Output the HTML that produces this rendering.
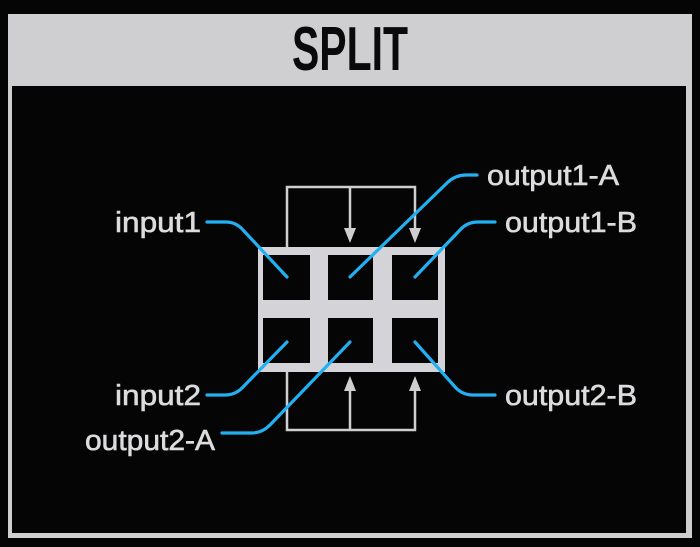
<!DOCTYPE html>
<html><head><style>
html,body{margin:0;padding:0;background:#000;}
svg{display:block;}
</style></head><body>
<svg width="700" height="547" viewBox="0 0 700 547" xmlns="http://www.w3.org/2000/svg">
<rect x="0" y="0" width="700" height="547" fill="#050505"/>
<rect x="8" y="14" width="684" height="524" fill="#cfcfd2"/>
<rect x="12" y="86" width="674" height="447" fill="#050505"/>
<text x="350" y="70" text-anchor="middle" font-family="Liberation Sans Narrow, Liberation Sans, sans-serif" font-weight="bold" font-size="62" fill="#0a0a0a" textLength="116" lengthAdjust="spacingAndGlyphs">SPLIT</text>
<!-- grid -->
<rect x="258" y="247" width="187" height="125" fill="#d4d4d8"/>
<g fill="#050505">
<rect x="263" y="255" width="47" height="45"/>
<rect x="328" y="255" width="45" height="45"/>
<rect x="392" y="255" width="46" height="45"/>
<rect x="263" y="318" width="47" height="45"/>
<rect x="328" y="318" width="45" height="45"/>
<rect x="392" y="318" width="46" height="45"/>
</g>
<!-- brackets -->
<g stroke="#cfcfd2" stroke-width="2.5" fill="none">
<polyline points="287,247 287,187 415,187 415,232"/>
<line x1="350" y1="187" x2="350" y2="232"/>
<polyline points="287,372 287,430 415,430 415,388"/>
<line x1="350" y1="430" x2="350" y2="388"/>
</g>
<g fill="#cfcfd2">
<polygon points="344,228 356,228 350,243"/>
<polygon points="409,228 421,228 415,243"/>
<polygon points="344,391 356,391 350,376"/>
<polygon points="409,391 421,391 415,376"/>
</g>
<!-- blue leaders -->
<g stroke="#22b0f2" stroke-width="3.2" fill="none" stroke-linecap="round">
<path d="M207,222 L226,222 Q236,222 243,230 L287,277"/>
<path d="M350,277 L448,182 Q456,175 466,175 L477,175"/>
<path d="M415,277 L460,230 Q467,222 478,222 L495,222"/>
<path d="M287,342 L242,388 Q235,395 225,395 L207,395"/>
<path d="M350,342 L270,425 Q262,433 252,433 L222,433"/>
<path d="M415,342 L456,388 Q463,395 473,395 L495,395"/>
</g>
<!-- labels -->
<g font-family="Liberation Sans Narrow, Liberation Sans, sans-serif" font-size="29" fill="#dcdcdf" stroke="#dcdcdf" stroke-width="0.6">
<text x="201" y="232" text-anchor="end" textLength="86" lengthAdjust="spacingAndGlyphs">input1</text>
<text x="487" y="185" textLength="132" lengthAdjust="spacingAndGlyphs">output1-A</text>
<text x="505" y="232" textLength="132" lengthAdjust="spacingAndGlyphs">output1-B</text>
<text x="201" y="405" text-anchor="end" textLength="86" lengthAdjust="spacingAndGlyphs">input2</text>
<text x="85" y="450" textLength="130" lengthAdjust="spacingAndGlyphs">output2-A</text>
<text x="505" y="405" textLength="132" lengthAdjust="spacingAndGlyphs">output2-B</text>
</g>
</svg>
</body></html>
